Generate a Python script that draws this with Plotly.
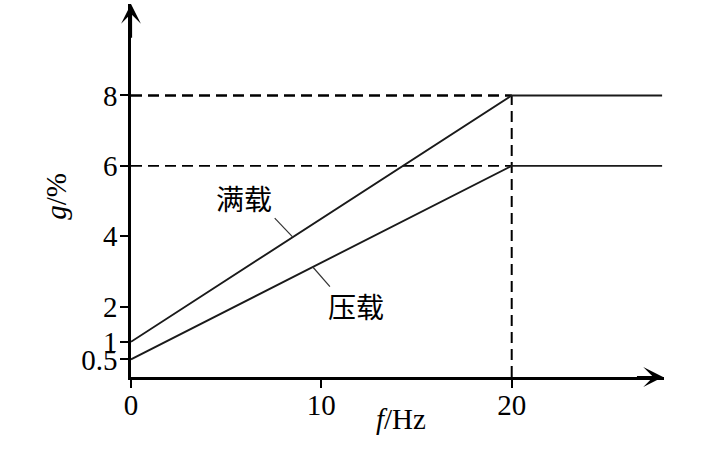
import plotly.graph_objects as go
import numpy as np

# ---- data ----
freq_hz = [0, 20, 27.9]
full_load_pct = [1, 8, 8]       # 满载
ballast_pct = [0.5, 6, 6]       # 压载
series_names = ["满载", "压载"]
x_tick_vals = [0, 10, 20]
x_tick_text = ["0", "10", "20"]
y_tick_vals = [0.5, 1, 2, 4, 6, 8]
y_tick_text = ["0.5", "1", "2", "4", "6", "8"]

X_MAX = 28
Y_MAX = 10.6
SERIF = "Liberation Serif, Times New Roman, serif"
CJK = "Noto Sans CJK SC, sans-serif"

fig = go.Figure()

# dashed guide lines (to the break point at 20 Hz)
fig.add_trace(go.Scatter(x=[freq_hz[0], freq_hz[1]], y=[full_load_pct[1]] * 2, mode="lines",
                         line=dict(color="black", width=2.6, dash="11px,6px"), hoverinfo="skip"))
fig.add_trace(go.Scatter(x=[freq_hz[0], freq_hz[1]], y=[ballast_pct[1]] * 2, mode="lines",
                         line=dict(color="black", width=1.7, dash="11px,6px"), hoverinfo="skip"))
fig.add_trace(go.Scatter(x=[freq_hz[1], freq_hz[1]], y=[0, full_load_pct[1]], mode="lines",
                         line=dict(color="black", width=2, dash="11px,6px"), hoverinfo="skip"))

# main curves
fig.add_trace(go.Scatter(x=freq_hz, y=full_load_pct, mode="lines", name=series_names[0],
                         line=dict(color="#1a1a1a", width=1.9)))
fig.add_trace(go.Scatter(x=freq_hz, y=ballast_pct, mode="lines", name=series_names[1],
                         line=dict(color="#1a1a1a", width=1.9)))

# labels with leader lines
leader_x = [8.5, 9.55]
for name, ys, lx, dx, dy, tx, ty in [
    (series_names[0], full_load_pct, leader_x[0], -0.95, 0.54, 5.95, 5.1),
    (series_names[1], ballast_pct, leader_x[1], 0.9, -0.56, 11.8, 2.03),
]:
    ly = float(np.interp(lx, freq_hz, ys))
    if dx < 0:
        x0, y0 = lx + dx, ly + dy
        x1, y1 = lx, ly
    else:
        x0, y0 = lx, ly
        x1, y1 = lx + dx, ly + dy
    fig.add_shape(type="line", x0=x0, y0=y0, x1=x1, y1=y1, xref="x", yref="y",
                  line=dict(color="#333", width=1.2))
    fig.add_annotation(x=tx, y=ty, text=name, showarrow=False, xref="x", yref="y",
                       font=dict(family=CJK, size=28, color="black"))

# axis arrows
fig.add_annotation(x=X_MAX - 0.05, y=0, ax=X_MAX - 1.5, ay=0, xref="x", yref="y", axref="x", ayref="y",
                   text="", showarrow=True, arrowhead=3, arrowsize=1.5, arrowwidth=2.2, arrowcolor="black")
fig.add_annotation(x=0, y=Y_MAX, ax=0, ay=Y_MAX - 1, xref="x", yref="y", axref="x", ayref="y",
                   text="", showarrow=True, arrowhead=3, arrowsize=1.5, arrowwidth=2.2, arrowcolor="black")

# axis titles
fig.add_annotation(x=0.5, y=0, xref="paper", yref="paper", yshift=-60, xshift=3,
                   text="<i>f</i>/Hz", showarrow=False, font=dict(family=SERIF, size=29, color="black"))
fig.add_annotation(x=0, y=5.12, xref="paper", yref="y", xanchor="center", yanchor="middle",
                   xshift=-75, textangle=-90,
                   text="<i>g</i>/%", showarrow=False, font=dict(family=SERIF, size=29, color="black"))

fig.update_xaxes(range=[0, X_MAX], showline=True, linecolor="black", linewidth=2.5,
                 ticks="outside", ticklen=8, tickwidth=2, tickcolor="black", automargin=False,
                 ticklabelstandoff=-8,
                 tickvals=x_tick_vals, ticktext=x_tick_text, showgrid=False, zeroline=False,
                 tickfont=dict(family=SERIF, size=29, color="black"))
fig.update_yaxes(range=[0, Y_MAX], showline=True, linecolor="black", linewidth=2.5,
                 ticks="outside", ticklen=8, tickwidth=2, tickcolor="black", automargin=False,
                 ticklabelstandoff=-3,
                 tickvals=y_tick_vals, ticktext=y_tick_text, showgrid=False, zeroline=False,
                 tickfont=dict(family=SERIF, size=29, color="black"))

fig.update_layout(width=709, height=454, margin=dict(l=131, r=45, t=4, b=77),
                  plot_bgcolor="white", paper_bgcolor="white", showlegend=False)

fig.write_html("out.html", config={"displayModeBar": False},
               post_script="document.body.style.margin='0';document.documentElement.style.overflow='hidden';")
